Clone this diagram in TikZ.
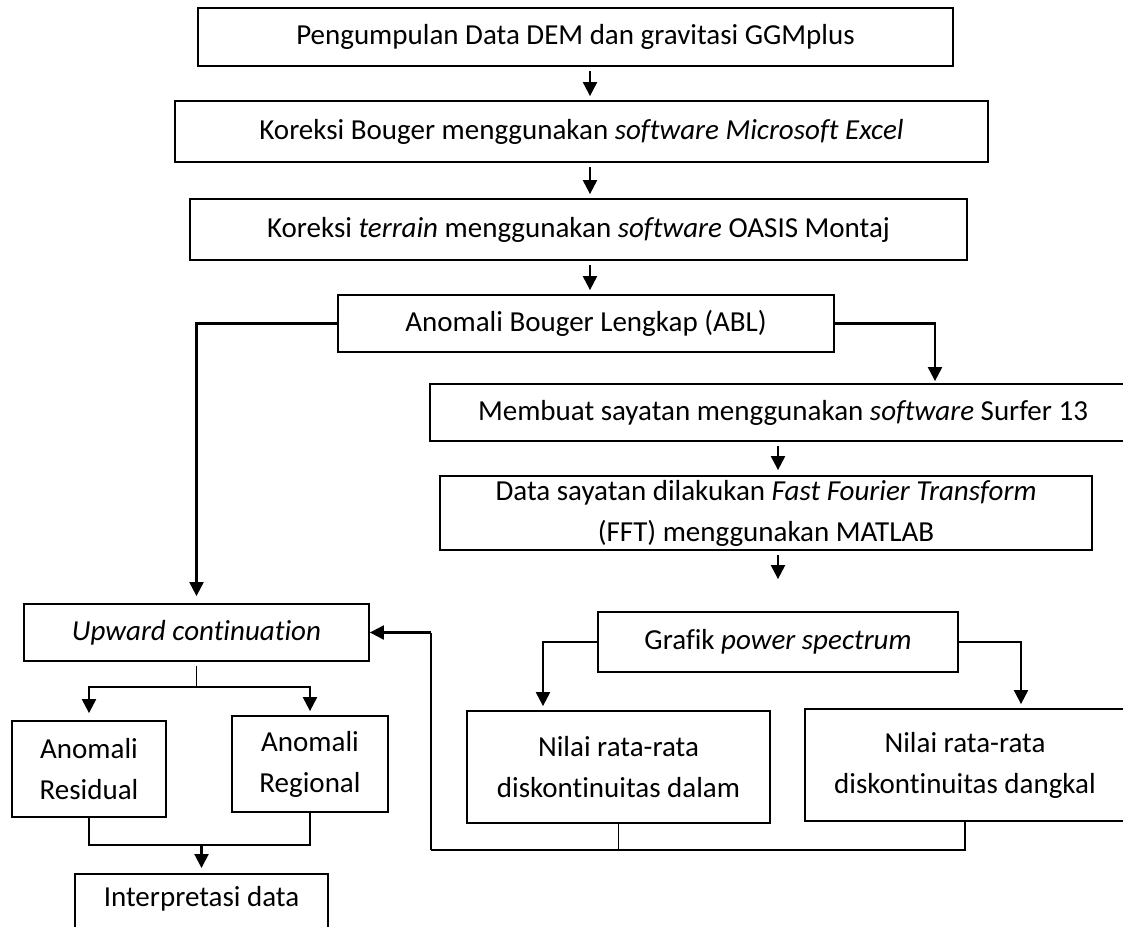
\documentclass[tikz,border=0pt]{standalone}
\usepackage{fontspec}
\setmainfont{Carlito}[Ligatures=NoCommon]
\usetikzlibrary{arrows.meta,calc}
\begin{document}
\begin{tikzpicture}[x=1pt,y=-1pt,
  box/.style={draw,line width=1.8pt,inner sep=0pt,align=center,font=\fontsize{29}{41}\selectfont},
  arr/.style={line width=2.1pt,-{Triangle[length=14pt,width=14pt]}},
  lnk/.style={line width=1.8pt},
  thinlnk/.style={line width=1.1pt}]
\clip (0,0) rectangle (1123,926);
\fill[white] (0,0) rectangle (1123,926);
\node[box,minimum width=755pt,minimum height=58pt] (b1) at (575.5,37) {Pengumpulan Data DEM dan gravitasi GGMplus};
\node[box,minimum width=813pt,minimum height=61pt] (b2) at (581.5,131.5) {Koreksi Bouger menggunakan \textit{software Microsoft Excel}};
\node[box,minimum width=777pt,minimum height=61pt] (b3) at (578.5,229.5) {Koreksi \textit{terrain} menggunakan \textit{software} OASIS Montaj};
\node[box,minimum width=496pt,minimum height=57pt] (b4) at (586,323.5) {Anomali Bouger Lengkap (ABL)};
\node[box,minimum width=706pt,minimum height=57pt] (b5) at (783,412.5) {Membuat sayatan menggunakan \textit{software} Surfer 13};
\node[box,minimum width=652pt,minimum height=74pt] (b6) at (766,513) {Data sayatan dilakukan \textit{Fast Fourier Transform}\\(FFT) menggunakan MATLAB};
\node[box,minimum width=360pt,minimum height=60pt] (b7) at (778,642) {Grafik \textit{power spectrum}};
\node[box,minimum width=303pt,minimum height=112pt] (b8) at (618.5,767) {Nilai rata-rata\\diskontinuitas dalam};
\node[box,minimum width=320pt,minimum height=112pt] (b9) at (965,765) {Nilai rata-rata\\diskontinuitas dangkal};
\node[box,minimum width=345pt,minimum height=57pt] (up) at (196.5,632.5) {\textit{Upward continuation}};
\node[box,minimum width=154pt,minimum height=96pt] (res) at (89,769) {Anomali\\Residual};
\node[box,minimum width=156pt,minimum height=96pt] (reg) at (310,764) {Anomali\\Regional};
\node[box,anchor=north,minimum width=253pt,text height=33pt,text depth=30pt] (interp) at (201.5,873) {Interpretasi data};
% main chain
\coordinate (colA) at (590,0);
\coordinate (colB) at (778,0);
\draw[arr,shorten <=4pt,shorten >=4pt] (b1.south -| colA) -- (b2.north -| colA);
\draw[arr,shorten <=4pt,shorten >=4pt] (b2.south -| colA) -- (b3.north -| colA);
\draw[arr,shorten <=4pt,shorten >=4pt] (b3.south -| colA) -- (b4.north -| colA);
\draw[arr,shorten >=7pt] (b4.west) -| (up.north);
\draw[arr,shorten >=2pt] (b4.east) -| ($(b5.north)+(152,0)$);
\draw[arr,shorten <=4pt,shorten >=5pt] (b5.south -| colB) -- (b6.north -| colB);
\draw[arr,shorten <=4pt,shorten >=32pt] (b6.south -| colB) -- (b7.north -| colB);
\draw[arr,shorten >=4pt] (b7.west) -| ($(b8.north)+(-75.5,0)$);
\draw[arr,shorten >=4pt] (b7.east) -| ($(b9.north)+(56,0)$);
% feedback loop
\coordinate (fb) at (431,850);
\coordinate (fc) at (fb |- up.east);
\draw[thinlnk] (b9.south) |- (fb);
\draw[thinlnk] (b8.south) -- (b8.south |- fb);
\draw[thinlnk] (fb) -- (fc);
\draw[arr] (fc) -- (up.east);
% upward split
\coordinate (sp) at (196.5,687);
\draw[thinlnk,shorten <=4pt] (up.south) -- (sp);
\draw[arr,shorten >=7pt] (sp) -| (res.north);
\draw[arr,shorten >=4pt] (sp) -| (reg.north);
% join
\coordinate (jn) at (201.5,845);
\draw[lnk] (res.south) |- (jn);
\draw[lnk] (reg.south) |- (jn);
\draw[arr,shorten >=5pt] (jn) -- (interp.north);
\end{tikzpicture}
\end{document}
